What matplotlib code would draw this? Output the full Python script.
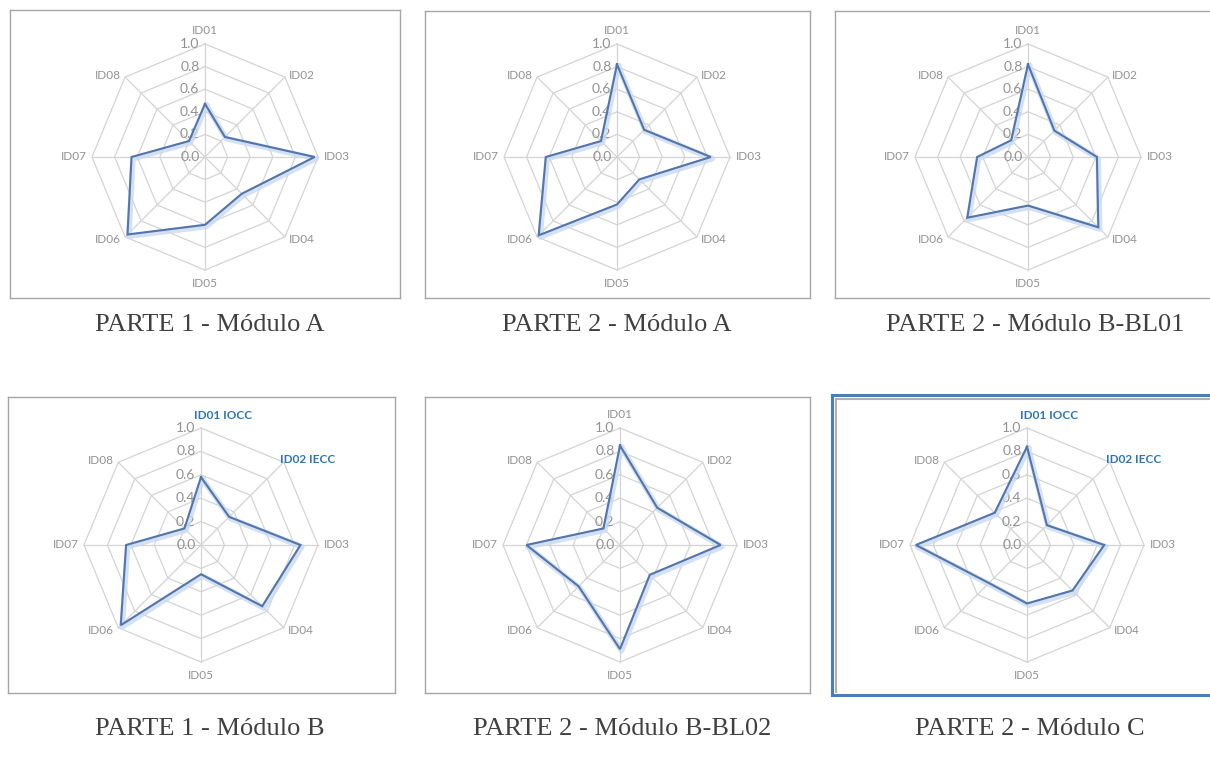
import numpy as np
import matplotlib
matplotlib.use("Agg")
import matplotlib.pyplot as plt

categories = ["ID01", "ID02", "ID03", "ID04", "ID05", "ID06", "ID07", "ID08"]
tick_values = [0.0, 0.2, 0.4, 0.6, 0.8, 1.0]
tick_labels = ["0.0", "0.2", "0.4", "0.6", "0.8", "1.0"]

p1_mod_a = [0.47, 0.25, 0.97, 0.46, 0.60, 0.97, 0.65, 0.20]
p2_mod_a = [0.82, 0.34, 0.83, 0.28, 0.42, 0.98, 0.63, 0.20]
p2_mod_b_bl01 = [0.82, 0.33, 0.61, 0.88, 0.43, 0.76, 0.45, 0.21]
p1_mod_b = [0.58, 0.34, 0.85, 0.74, 0.25, 0.97, 0.64, 0.20]
p2_mod_b_bl02 = [0.85, 0.45, 0.86, 0.36, 0.89, 0.50, 0.80, 0.20]
p2_mod_c = [0.84, 0.24, 0.66, 0.55, 0.50, 0.46, 0.95, 0.39]

captions = ["PARTE 1 - Módulo A", "PARTE 2 - Módulo A", "PARTE 2 - Módulo B-BL01",
            "PARTE 1 - Módulo B", "PARTE 2 - Módulo B-BL02", "PARTE 2 - Módulo C"]
series = [p1_mod_a, p2_mod_a, p2_mod_b_bl01, p1_mod_b, p2_mod_b_bl02, p2_mod_c]
highlight = [False, False, False, True, False, True]
highlight_labels = {"ID01": "ID01 IOCC", "ID02": "ID02 IECC"}

W, H = 1210, 765
fig = plt.figure(figsize=(W / 100, H / 100), dpi=100)
fig.patch.set_facecolor("white")

# layout (pixels): box left, top, width, height, center x/y inside box, radius
boxes = [
    (10, 10, 390, 288, 195, 147, 113),
    (425, 11, 385, 287, 192, 146, 113),
    (835, 11, 385, 287, 193, 146, 113),
    (8, 397, 387, 296, 193, 148, 117),
    (425, 397, 385, 296, 195, 148, 117),
    (832, 395, 388, 300, 195, 150, 117),
]
cap_pos = [(210, 325), (617, 325), (1035, 325), (210, 729), (622, 729), (1030, 729)]

GRID = "#d4d4d4"
LBL = "#929292"
LINE = "#5275ab"
GLOW = "#c9daf0"
HL = "#2e75b6"

angles = np.arange(len(categories)) * 2 * np.pi / len(categories)
sx, cy_ = np.sin(angles), np.cos(angles)

for i, (L, T, bw, bh, cxp, cyp, R) in enumerate(boxes):
    ax = fig.add_axes([L / W, 1 - (T + bh) / H, bw / W, bh / H])
    ax.set_xlim(-cxp / R, (bw - cxp) / R)
    ax.set_ylim(-(bh - cyp) / R, cyp / R)
    ax.set_xticks([])
    ax.set_yticks([])
    for sp in ax.spines.values():
        if i == 5:
            sp.set_color("#4a7ebb")
            sp.set_linewidth(2.2)
        else:
            sp.set_color("#a6a6a6")
            sp.set_linewidth(1.0)
    if i == 5:
        # inner grey shadow of the selected frame
        ax.plot([-cxp / R + 4 / R, -cxp / R + 4 / R], [-(bh - cyp) / R + 3 / R, cyp / R - 4 / R],
                color="#b0b0b0", lw=1.5, clip_on=False)
        ax.plot([-cxp / R + 4 / R, (bw - cxp) / R], [cyp / R - 4 / R, cyp / R - 4 / R],
                color="#b0b0b0", lw=1.5, clip_on=False)

    # grid octagons
    for t in tick_values[1:]:
        xs = np.append(t * sx, t * sx[0])
        ys = np.append(t * cy_, t * cy_[0])
        ax.plot(xs, ys, color=GRID, lw=0.9, zorder=1)
    for k in range(len(categories)):
        ax.plot([0, sx[k]], [0, cy_[k]], color=GRID, lw=0.9, zorder=1)

    # tick labels
    for t, tl in zip(tick_values, tick_labels):
        ax.annotate(tl, xy=(0, t), xytext=(-4, 0), textcoords="offset points",
                    ha="right", va="center", fontsize=10, color=LBL, family="Lato", zorder=2)

    # category labels
    for k, c in enumerate(categories):
        lab = c
        color = LBL
        weight = "normal"
        if highlight[i] and c in highlight_labels:
            lab = highlight_labels[c]
            color = HL
            weight = "bold"
        x, y = sx[k], cy_[k]
        if k == 0:
            if highlight[i]:
                kw = dict(xytext=(-5, 5), ha="left", va="bottom")
            else:
                kw = dict(xytext=(0, 6), ha="center", va="bottom")
        elif k == 4:
            kw = dict(xytext=(0, -6), ha="center", va="top")
        elif k == 2:
            kw = dict(xytext=(4, 0), ha="left", va="center")
        elif k == 6:
            kw = dict(xytext=(-4, 0), ha="right", va="center")
        elif k == 1:
            kw = dict(xytext=(3, 1), ha="left", va="center") if not highlight[i] else dict(xytext=(-3, 2), ha="left", va="center")
        elif k == 3:
            kw = dict(xytext=(3, -2), ha="left", va="center")
        elif k == 5:
            kw = dict(xytext=(-3, -2), ha="right", va="center")
        else:
            kw = dict(xytext=(-3, 1), ha="right", va="center")
        ax.annotate(lab, xy=(x, y), textcoords="offset points", fontsize=8.5,
                    color=color, fontweight=weight, family="Lato", annotation_clip=False, **kw)

    # data
    v = np.array(series[i])
    xs = np.append(v * sx, v[0] * sx[0])
    ys = np.append(v * cy_, v[0] * cy_[0])
    ax.plot(xs + 0.012, ys - 0.015, color=GLOW, lw=4, alpha=0.8, zorder=3, solid_joinstyle="round")
    ax.plot(xs, ys, color=LINE, lw=1.5, zorder=4, solid_joinstyle="miter")

    fig.text(cap_pos[i][0] / W, 1 - cap_pos[i][1] / H, captions[i], ha="center", va="center",
             fontsize=19, family="Liberation Serif", color="#404040")

fig.savefig("out.png", dpi=100, facecolor="white")
